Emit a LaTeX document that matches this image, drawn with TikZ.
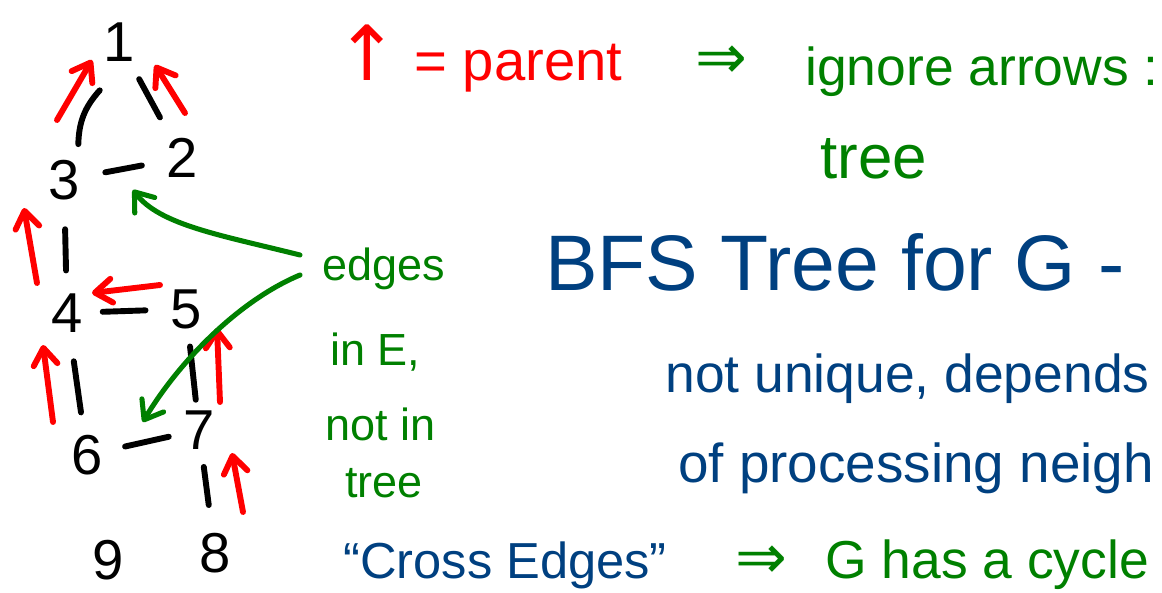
\documentclass[tikz,border=0pt]{standalone}
\usepackage{fontspec}
\setmainfont{Liberation Sans}
\newfontfamily\symf{DejaVu Sans}
\usetikzlibrary{calc,arrows.meta}
\definecolor{inkred}{RGB}{255,0,0}
\definecolor{inkgreen}{RGB}{0,128,0}
\definecolor{inkblue}{RGB}{0,64,128}

\begin{document}
\begin{tikzpicture}[x=0.025cm,y=-0.025cm,
  vtx/.style={inner sep=0pt,font=\fontsize{40}{48}\selectfont},
  tedge/.style={line width=4.2pt,line cap=round},
  parentarr/.style={inkred,line width=4.2pt,line cap=round,-{Straight Barb[length=12pt,width=17pt,round]}},
  crossarr/.style={inkgreen,line width=3.6pt,line cap=round,-{Straight Barb[length=12pt,width=18pt,round]}},
  note/.style={inner sep=0pt,anchor=base west}]
  \useasboundingbox (0,0) rectangle (1162,592);
  \clip (0,0) rectangle (1162,592);
  % BFS tree
  \node[vtx] (n1) at (119,42) {1};
  \node[vtx] (n2) at (182,158) {2};
  \node[vtx] (n3) at (64,180) {3};
  \node[vtx] (n4) at (67,313) {4};
  \node[vtx] (n5) at (186,309) {5};
  \node[vtx] (n6) at (87,455) {6};
  \node[vtx] (n7) at (199,430) {7};
  \node[vtx] (n8) at (215,553) {8};
  \node[vtx] (n9) at (108,560) {9};
  \draw[tedge] ($(n1)!.35!(n3)$) to[bend right=20] ($(n1)!.74!(n3)$);
  \draw[tedge] ($(n1)!.32!(n2)$) -- ($(n1)!.65!(n2)$);
  \draw[tedge] ($(n3)!.35!(n2)$) -- ($(n3)!.66!(n2)$);
  \draw[tedge] ($(n3)!.37!(n4)$) -- ($(n3)!.68!(n4)$);
  \draw[tedge] ($(n4)!.30!(n5)$) -- ($(n4)!.66!(n5)$);
  \draw[tedge] ($(n4)!.34!(n6)$) -- ($(n4)!.70!(n6)$);
  \draw[tedge] ($(n5)!.31!(n7)$) -- ($(n5)!.75!(n7)$);
  \draw[tedge] ($(n6)!.34!(n7)$) -- ($(n6)!.73!(n7)$);
  \draw[tedge] ($(n7)!.30!(n8)$) -- ($(n7)!.61!(n8)$);
  % parent pointers
  \draw[parentarr] ($(n3)+(-7,-60)$) -- ($(n1)+(-27,18)$);
  \draw[parentarr] ($(n2)+(3,-45)$) -- ($(n1)+(36,23)$);
  \draw[parentarr] ($(n4)+(-30,-30)$) -- ($(n3)+(-40,28)$);
  \draw[parentarr] ($(n5)+(-26,-24)$) -- ($(n4)+(25,-20)$);
  \draw[parentarr] ($(n6)+(-34,-33)$) -- ($(n4)+(-24,32)$);
  \draw[parentarr] ($(n7)+(21,-28)$) -- ($(n5)+(31,19)$);
  \draw[parentarr] ($(n8)+(28,-41)$) -- ($(n7)+(33,23)$);
  % cross edges
  \node[note,inkgreen,font=\fontsize{32}{38}\selectfont] (edges) at (322,280) {edges};
  \node[note,inkgreen,font=\fontsize{32}{38}\selectfont] (inE) at (330,365) {in E,};
  \node[note,inkgreen,font=\fontsize{32}{38}\selectfont] (notin) at (325,440) {not in};
  \node[note,inkgreen,font=\fontsize{32}{38}\selectfont] (tree) at (345,497) {tree};
  \draw[crossarr] ($(edges.base west)+(-22,-25)$) .. controls (220,235) and (160,225) .. ($(n3)!.55!(n2)+(4,22)$);
  \draw[crossarr] ($(edges.base west)+(-22,-5)$) .. controls (240,300) and (180,360) .. ($(n6)!.4!(n7)+(11,-23)$);
  % notes
  \node[note,inkred,font=\fontsize{40}{48}\selectfont] (key) at (335,80) {{\symf\fontsize{54}{60}\selectfont ↑} = parent};
  \node[note,inkgreen,font=\symf\fontsize{44}{50}\selectfont] (imp1) at (695,78) {⇒};
  \node[note,inkgreen,font=\fontsize{38}{46}\selectfont] (ignore) at (805,85) {ignore arrows :};
  \node[note,inkgreen,font=\fontsize{44}{52}\selectfont] (treetop) at (820,178) {tree};
  \node[note,inkblue,font=\fontsize{56}{64}\selectfont] (bfs) at (545,290) {BFS Tree for G -};
  \node[note,inkblue,font=\fontsize{38}{46}\selectfont] (uniq) at (665,392) {not unique, depends};
  \node[note,inkblue,font=\fontsize{39}{46}\selectfont] (order) at (678,482) {of processing neigh};
  \node[note,inkblue,font=\fontsize{36}{44}\selectfont] (cross) at (343,578) {“Cross Edges”};
  \node[note,inkgreen,font=\symf\fontsize{44}{50}\selectfont] (imp2) at (735,578) {⇒};
  \node[note,inkgreen,font=\fontsize{38}{46}\selectfont] (cycle) at (825,578) {G has a cycle};
\end{tikzpicture}
\end{document}
